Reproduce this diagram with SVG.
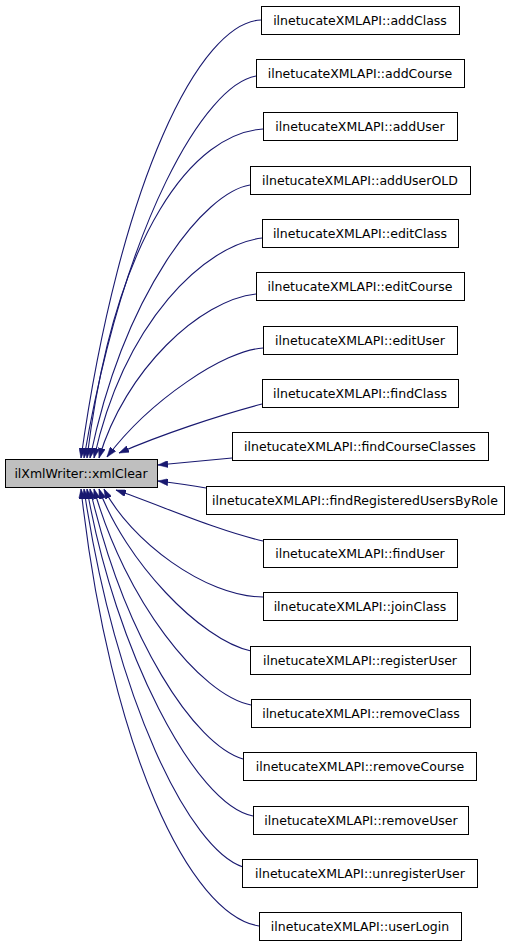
<svg xmlns="http://www.w3.org/2000/svg" width="520" height="947" viewBox="0 0 520 947">
<style>
.n rect{fill:#ffffff;stroke:#000000;stroke-width:1}
#root rect{fill:#bfbfbf}
text{font-family:"DejaVu Sans","Liberation Sans",sans-serif;font-size:12.5px;text-anchor:middle;fill:#000000}
.e path{fill:none;stroke:#191970;stroke-width:1.1;marker-end:url(#ah)}
</style>
<defs>
<marker id="ah" markerUnits="userSpaceOnUse" viewBox="0 0 10 7" markerWidth="10" markerHeight="7" refX="10" refY="3.5" orient="auto">
<path d="M0,0 L10,3.5 L0,7 z" fill="#191970" stroke="#191970" stroke-width="0.5"/>
</marker>
</defs>
<rect width="520" height="947" fill="#ffffff"/>
<g class="e" id="edges">
<path d="M261,20 C200,22 120,180 81,458"/>
<path d="M256,76 C205,85 125,220 84,458"/>
<path d="M263,129 C195,133 115,230 87,458"/>
<path d="M250,185 C205,192 125,290 90,458"/>
<path d="M262,238 C205,245 125,320 94,458"/>
<path d="M256,294 C200,300 125,370 99,458"/>
<path d="M263,348 C225,350 150,400 107,457"/>
<path d="M262,404 C220,415 160,435 119,453"/>
<path d="M232,458 L158,465"/>
<path d="M206,488 C190,485 175,483 158,481"/>
<path d="M263,541 C215,530 160,505 116,490"/>
<path d="M263,597 C205,597 130,540 104,489"/>
<path d="M251,651 C200,640 125,560 99,489"/>
<path d="M251,705 C200,695 125,600 94,489"/>
<path d="M243,759 C195,745 125,640 90,489"/>
<path d="M253,816 C195,805 115,650 87,489"/>
<path d="M243,867 C190,850 115,700 84,489"/>
<path d="M259,926 C190,915 110,750 81,489"/>
</g>
<g id="root" class="n"><rect x="5.5" y="459.5" width="152" height="28"/><text x="81" y="478">ilXmlWriter::xmlClear</text></g>
<g id="n0" class="n"><rect x="261.5" y="6.5" width="198" height="28"/><text x="360" y="25">ilnetucateXMLAPI::addClass</text></g>
<g id="n1" class="n"><rect x="256.5" y="59.5" width="208" height="28"/><text x="360" y="78">ilnetucateXMLAPI::addCourse</text></g>
<g id="n2" class="n"><rect x="263.5" y="112.5" width="194" height="28"/><text x="360" y="131">ilnetucateXMLAPI::addUser</text></g>
<g id="n3" class="n"><rect x="250.5" y="166.5" width="220" height="28"/><text x="360" y="185">ilnetucateXMLAPI::addUserOLD</text></g>
<g id="n4" class="n"><rect x="262.5" y="219.5" width="196" height="28"/><text x="360" y="238">ilnetucateXMLAPI::editClass</text></g>
<g id="n5" class="n"><rect x="256.5" y="272.5" width="208" height="28"/><text x="360" y="291">ilnetucateXMLAPI::editCourse</text></g>
<g id="n6" class="n"><rect x="263.5" y="326.5" width="194" height="28"/><text x="360" y="345">ilnetucateXMLAPI::editUser</text></g>
<g id="n7" class="n"><rect x="262.5" y="379.5" width="196" height="28"/><text x="360" y="398">ilnetucateXMLAPI::findClass</text></g>
<g id="n8" class="n"><rect x="232.5" y="432.5" width="256" height="28"/><text x="360" y="451">ilnetucateXMLAPI::findCourseClasses</text></g>
<g id="n9" class="n"><rect x="206.5" y="486.5" width="298" height="28"/><text x="355" y="505">ilnetucateXMLAPI::findRegisteredUsersByRole</text></g>
<g id="n10" class="n"><rect x="263.5" y="539.5" width="194" height="28"/><text x="360" y="558">ilnetucateXMLAPI::findUser</text></g>
<g id="n11" class="n"><rect x="263.5" y="592.5" width="194" height="28"/><text x="360" y="611">ilnetucateXMLAPI::joinClass</text></g>
<g id="n12" class="n"><rect x="250.5" y="646.5" width="220" height="28"/><text x="360" y="665">ilnetucateXMLAPI::registerUser</text></g>
<g id="n13" class="n"><rect x="251.5" y="699.5" width="219" height="28"/><text x="361" y="718">ilnetucateXMLAPI::removeClass</text></g>
<g id="n14" class="n"><rect x="243.5" y="752.5" width="233" height="28"/><text x="360" y="771">ilnetucateXMLAPI::removeCourse</text></g>
<g id="n15" class="n"><rect x="253.5" y="806.5" width="215" height="28"/><text x="361" y="825">ilnetucateXMLAPI::removeUser</text></g>
<g id="n16" class="n"><rect x="242.5" y="859.5" width="235" height="28"/><text x="360" y="878">ilnetucateXMLAPI::unregisterUser</text></g>
<g id="n17" class="n"><rect x="259.5" y="912.5" width="202" height="28"/><text x="360" y="931">ilnetucateXMLAPI::userLogin</text></g>
</svg>
